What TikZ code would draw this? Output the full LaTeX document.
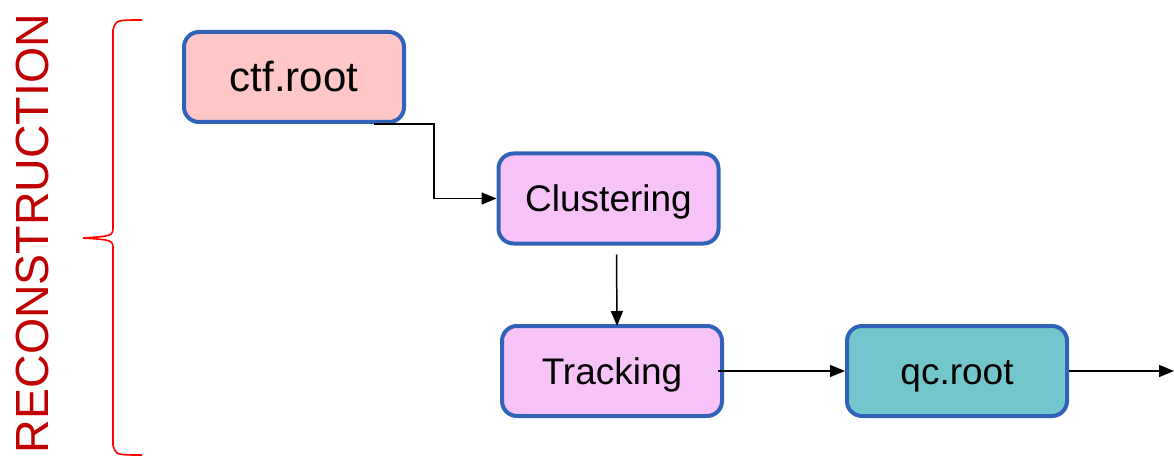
\documentclass[tikz,border=0pt]{standalone}
\usepackage{fontspec}
\setmainfont{Liberation Sans}
\usetikzlibrary{arrows.meta, positioning}

\definecolor{boxblue}{RGB}{48,99,183}
\definecolor{ctfpink}{RGB}{255,199,199}
\definecolor{procpink}{RGB}{248,195,248}
\definecolor{qcteal}{RGB}{116,198,205}
\definecolor{recored}{RGB}{192,0,0}

\begin{document}
\begin{tikzpicture}[
    x=1pt, y=-1pt,
    stage/.style = {rectangle, draw=boxblue, line width=4pt, rounded corners=15pt,
                    minimum width=220pt, minimum height=90pt, inner sep=0pt,
                    text height=26.5pt, text depth=0pt,
                    font=\fontsize{37}{44}\selectfont, align=center},
    arr/.style   = {-{Triangle[length=15pt, width=12pt]}, line width=1.5pt, black},
    brace/.style = {draw=red, line width=1.6pt},
]
\useasboundingbox (0,0) rectangle (1174,457);

%% ---- Side title ----
\node[rotate=90, text=recored, font=\fontsize{46.5}{56}\selectfont, inner sep=0pt]
    (title) at (32,233.5) {RECONSTRUCTION};

%% ---- Brace ----
\draw[brace] (142,20) .. controls (116,20) .. (113,30) -- (113,226)
    .. controls (113,236) .. (83,238)
    .. controls (113,240) .. (113,250) -- (113,445)
    .. controls (116,455) .. (142,455);

%% ---- Stages ----
\node[stage, fill=ctfpink, font=\fontsize{42}{50}\selectfont, text height=30pt]
    (ctf) at (294,77) {ctf.root};
\node[stage, fill=procpink] (clus) at (608.5,198.5) {Clustering};
\node[stage, fill=procpink] (trk) at (612,371) {Tracking};
\node[stage, fill=qcteal, right=121pt of trk] (qc) {qc.root};

%% ---- Arrows ----
\coordinate (bend) at (434,124);
\coordinate (out) at (1174,371);
\draw[arr] ([xshift=-32pt]ctf.south east) -- (bend) |- (clus.west);
\draw[arr] ([xshift=8pt, yshift=-9pt]clus.south) -- ([xshift=5pt, yshift=-2pt]trk.north);
\draw[arr] ([xshift=-6pt]trk.east) -- (qc.west);
\draw[arr] (qc.east) -- (out);

\end{tikzpicture}
\end{document}
